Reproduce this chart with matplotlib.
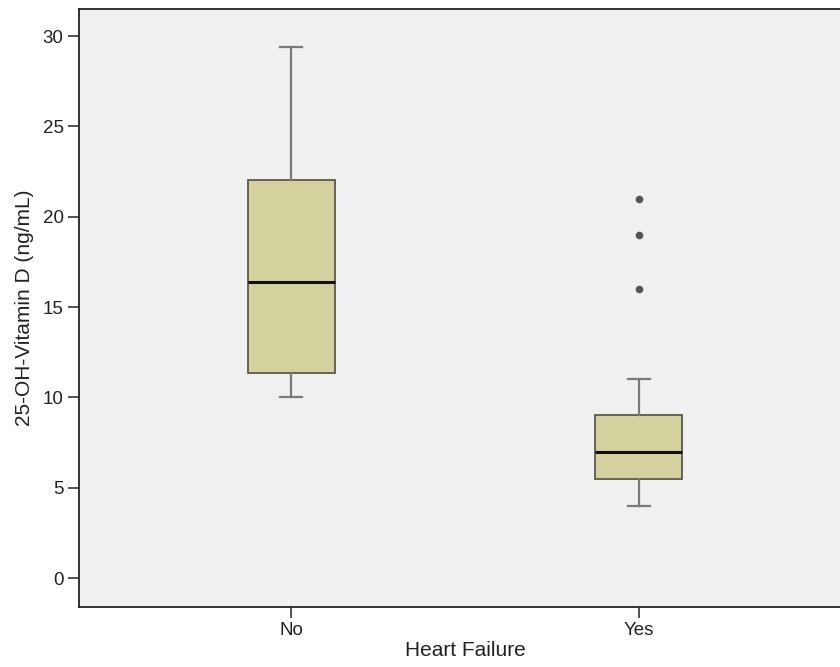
import matplotlib
matplotlib.use("Agg")
import matplotlib.pyplot as plt

plt.rcParams['font.family'] = ['Liberation Sans', 'DejaVu Sans']

# --- data ---
groups = ['No', 'Yes']
q1 = [11.35, 5.5]
medians = [16.4, 7.0]
q3 = [22.05, 9.0]
whisker_low = [10.0, 4.0]
whisker_high = [29.4, 11.0]
outliers = [[], [16.0, 19.0, 21.0]]

stats = []
for i, g in enumerate(groups):
    stats.append({'label': g, 'q1': q1[i], 'med': medians[i], 'q3': q3[i],
                  'whislo': whisker_low[i], 'whishi': whisker_high[i],
                  'fliers': outliers[i]})

fig = plt.figure(figsize=(8.4, 6.67), dpi=100)
ax = fig.add_axes([0.094, 0.09, 0.919, 0.8966])
ax.set_facecolor('#f0f0f0')

ax.bxp(stats, positions=[1, 2], widths=0.25, capwidths=0.065, patch_artist=True,
       boxprops=dict(facecolor='#d3d29e', edgecolor='#5a5a4a', linewidth=1.3),
       medianprops=dict(color='#111111', linewidth=2.2),
       whiskerprops=dict(color='#7a7a7a', linewidth=1.6),
       capprops=dict(color='#7a7a7a', linewidth=1.6),
       flierprops=dict(marker='o', markersize=4.5, markerfacecolor='#555555',
                       markeredgecolor='#555555'))

ax.set_xlim(0.39, 2.61)
ax.set_ylim(-1.6, 31.5)
ax.set_yticks([0, 5, 10, 15, 20, 25, 30])
ax.set_xticks([1, 2])
ax.set_xticklabels(groups)

for s in ax.spines.values():
    s.set_color('#222222')
    s.set_linewidth(1.3)

ax.tick_params(axis='both', direction='out', length=8, width=1.1,
               color='#222222', labelsize=13.5, labelcolor='#222222', pad=3)
ax.set_xlabel('Heart Failure', fontsize=15, color='#222222', labelpad=1)
ax.set_ylabel('25-OH-Vitamin D (ng/mL)', fontsize=15, color='#222222', labelpad=6)

fig.savefig('out.png', dpi=100)
